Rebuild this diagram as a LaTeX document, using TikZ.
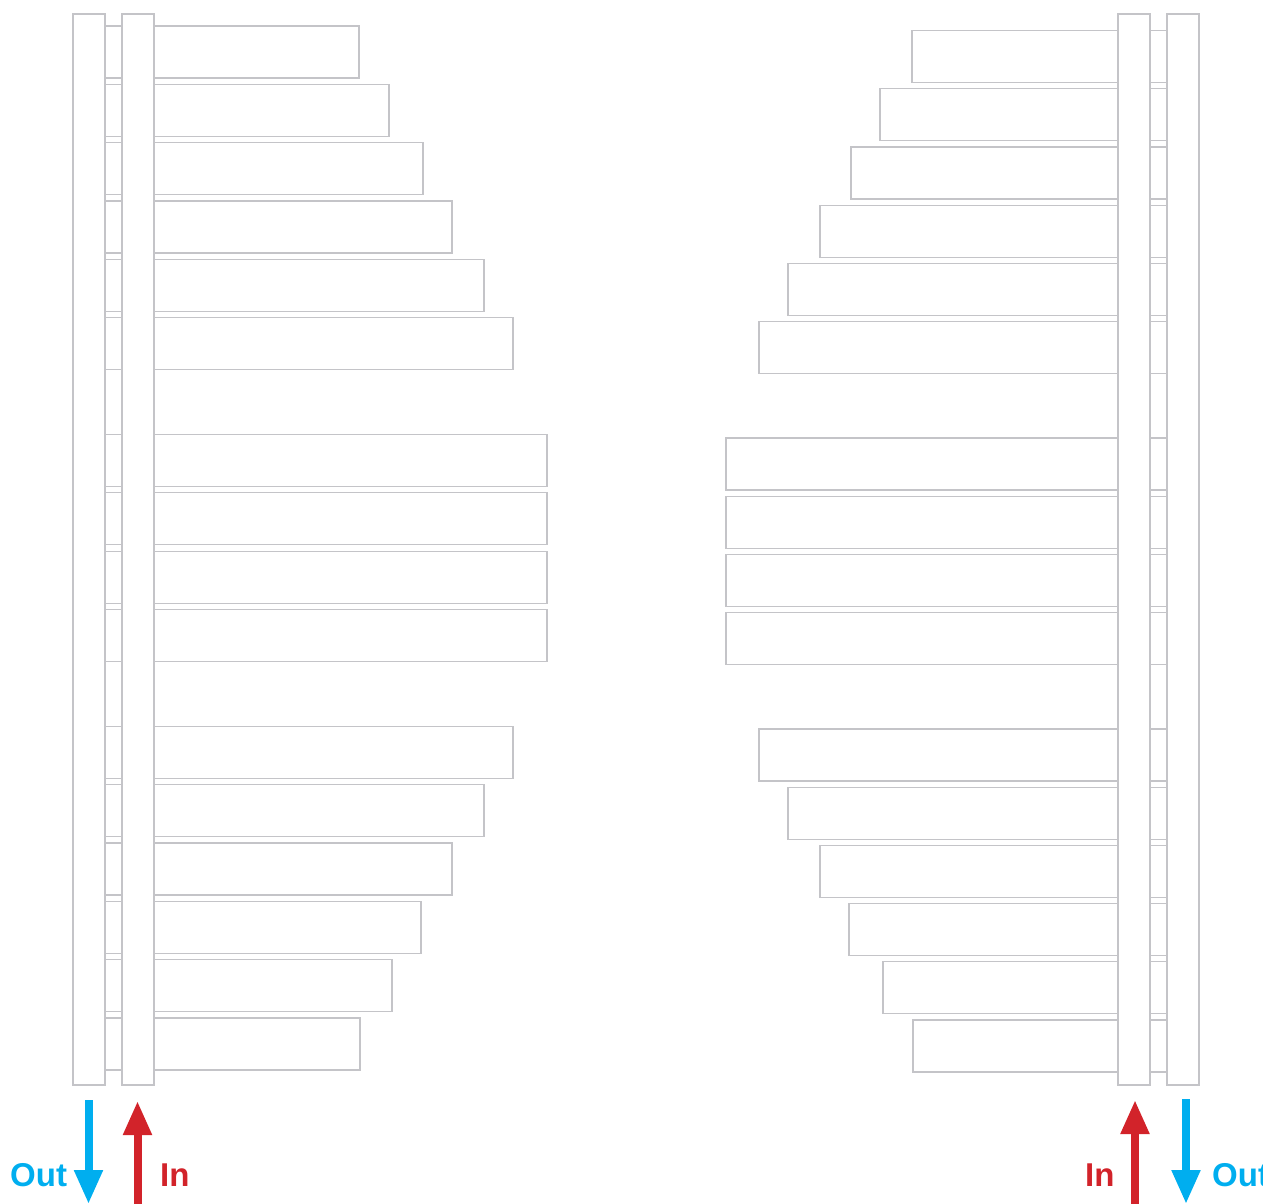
\documentclass[tikz,border=0pt]{standalone}
\usepackage{fontspec}
\setmainfont{Liberation Sans}
\usepackage{tikz}
\usetikzlibrary{arrows.meta, positioning}
\definecolor{pipegray}{RGB}{196, 196, 200}
\definecolor{coldblue}{RGB}{0, 174, 239}
\definecolor{hotred}{RGB}{210, 35, 42}

\begin{document}
\begin{tikzpicture}[x=1pt, y=-1pt,
			header/.style={rectangle, draw=pipegray, fill=white, line width=1.2pt, inner sep=0pt, outer sep=0pt, anchor=north west, minimum width=32pt, minimum height=1071pt},
			branch/.style={rectangle, draw=pipegray, line width=1.2pt, inner sep=0pt, outer sep=0pt, anchor=north west, minimum height=52pt},
			link/.style={branch, minimum width=17pt},
			flow/.style={line width=8pt, -{Triangle[length=34pt, width=27pt]}},
			tag/.style={anchor=base west, inner sep=0pt, font=\fontsize{33}{33}\selectfont\bfseries}
			]
			\useasboundingbox (0,0) rectangle (1263,1204);
			
			% Branches left
			\foreach \k/\r in {0/359, 1/389, 2/423, 3/452, 4/484, 5/513, 7/547, 8/547, 9/547, 10/547, 12/513, 13/484, 14/452, 15/421, 16/392, 17/360} {
				\pgfmathsetmacro{\rowy}{26+58.35*\k}
				\pgfmathsetmacro{\len}{\r-153}
				\node[branch, minimum width=\len pt] (lb\k) at (153,\rowy) {};
				\node[link] (ll\k) at (105,\rowy) {};
			}
			
			% Branches right
			\foreach \k/\l in {0/912, 1/880, 2/851, 3/820, 4/788, 5/759, 7/726, 8/726, 9/726, 10/726, 12/759, 13/788, 14/820, 15/849, 16/883, 17/913} {
				\pgfmathsetmacro{\rowy}{30.5+58.2*\k}
				\pgfmathsetmacro{\len}{1118-\l}
				\node[branch, minimum width=\len pt, anchor=north east] (rb\k) at (1118,\rowy) {};
				\node[link] (rl\k) at (1150,\rowy) {};
			}
			
			% Empty slots
			\foreach \k in {6, 11} {
				\pgfmathsetmacro{\rowy}{26+58.35*\k-6.35}
				\node[link, minimum height=64.7pt] (lg\k) at (105,\rowy) {};
				\pgfmathsetmacro{\rowy}{30.5+58.2*\k-6.2}
				\node[link, minimum height=64.4pt] (rg\k) at (1150,\rowy) {};
			}
			
			% Headers
			\node[header] (outL) at (73,14) {};
			\node[header] (inL) at (122,14) {};
			\node[header] (inR) at (1118,14) {};
			\node[header] (outR) at (1167,14) {};
			
			% Flow arrows
			\coordinate (outLtail) at (88.5,1100);
			\coordinate (outLtip) at (88.5,1204);
			\coordinate (inLtail) at (137.5,1210);
			\coordinate (inLtip) at (137.5,1101);
			\coordinate (inRtail) at (1135,1210);
			\coordinate (inRtip) at (1135,1100);
			\coordinate (outRtail) at (1186,1099);
			\coordinate (outRtip) at (1186,1204);
			\draw[flow, coldblue] (outLtail) -- (outLtip);
			\draw[flow, hotred] (inLtail) -- (inLtip);
			\draw[flow, hotred] (inRtail) -- (inRtip);
			\draw[flow, coldblue] (outRtail) -- (outRtip);
			
			% Labels
			\node[tag, text=coldblue] (outLlbl) at (10,1186) {Out};
			\node[tag, text=hotred] (inLlbl) at (160,1186) {In};
			\node[tag, text=hotred] (inRlbl) at (1085,1186) {In};
			\node[tag, text=coldblue] (outRlbl) at (1212,1186) {Out};
		\end{tikzpicture}
\end{document}
